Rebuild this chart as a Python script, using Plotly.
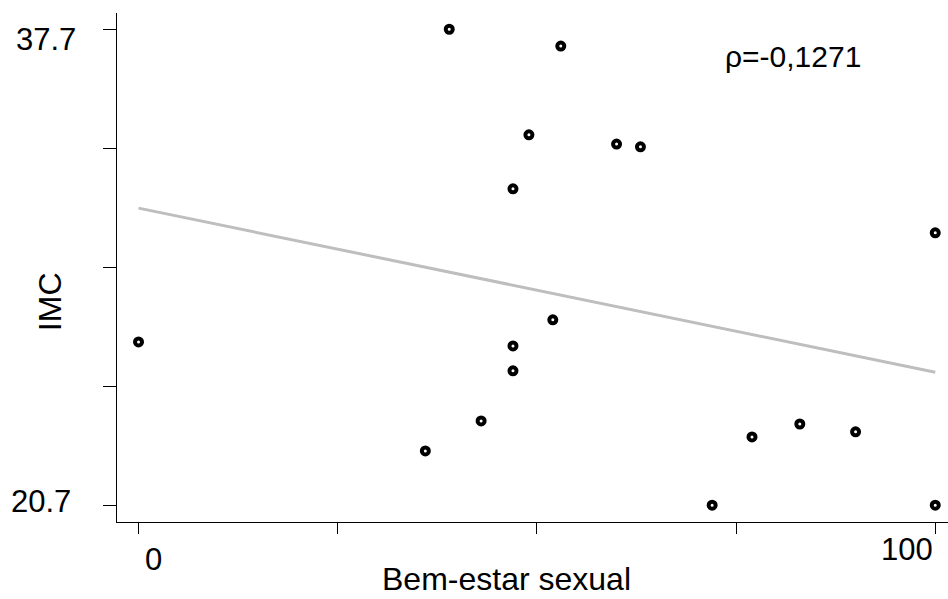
import plotly.graph_objects as go

# Data
bem_estar = [0, 36, 39, 43, 47, 47, 47, 49, 52, 53, 60, 63, 72, 77, 83, 90, 100, 100]
imc = [26.53, 22.64, 37.7, 23.71, 32.0, 26.39, 25.5, 33.93, 27.32, 37.1,
       33.6, 33.5, 20.7, 23.14, 23.6, 23.32, 30.43, 20.7]

fit_x = [0, 100]
fit_y = [31.31, 25.45]

x_tickvals = [0, 25, 50, 75, 100]
y_tickvals = [37.7, 33.45, 29.2, 24.95, 20.7]
rho_text = "ρ=-0,1271"

FONT = "Liberation Sans, Arial, sans-serif"

fig = go.Figure()
fig.add_trace(go.Scatter(x=fit_x, y=fit_y, mode="lines",
                         line=dict(color="#bebebe", width=3),
                         hoverinfo="skip", showlegend=False))
fig.add_trace(go.Scatter(x=bem_estar, y=imc, mode="markers", cliponaxis=False,
                         marker=dict(symbol="circle", size=7, color="white",
                                     line=dict(color="black", width=4)),
                         showlegend=False))

fig.update_layout(
    width=948, height=599,
    margin=dict(l=117, r=0, t=13, b=77),
    paper_bgcolor="white", plot_bgcolor="white",
    font=dict(family=FONT, size=31, color="black"),
    xaxis=dict(range=[-2.70, 101.6], showgrid=False, zeroline=False,
               showline=True, linecolor="black", linewidth=1,
               ticks="outside", ticklen=11, tickwidth=1, tickcolor="black",
               tickvals=x_tickvals, showticklabels=False),
    yaxis=dict(range=[20.10, 38.28], showgrid=False, zeroline=False,
               showline=True, linecolor="black", linewidth=1,
               ticks="outside", ticklen=13, tickwidth=1, tickcolor="black",
               tickvals=y_tickvals, showticklabels=False),
)

ann = []
# y tick labels (only first and last)
ann.append(dict(text="37.7", xref="paper", yref="y", x=-0.0469, y=y_tickvals[0],
                xanchor="right", yanchor="middle", yshift=-10, showarrow=False,
                font=dict(size=31)))
ann.append(dict(text="20.7", xref="paper", yref="y", x=-0.0529, y=y_tickvals[-1],
                xanchor="right", yanchor="middle", yshift=4, showarrow=False,
                font=dict(size=31)))
# x tick labels
ann.append(dict(text="0", xref="x", yref="paper", x=x_tickvals[0], y=-0.0727,
                xanchor="center", yanchor="middle", xshift=14.5, showarrow=False,
                font=dict(size=31)))
ann.append(dict(text="100", xref="x", yref="paper", x=x_tickvals[-1], y=-0.054,
                xanchor="right", yanchor="middle", showarrow=False,
                font=dict(size=31)))
# axis titles
ann.append(dict(text="Bem-estar sexual", xref="paper", yref="paper", x=0.4687, y=-0.112,
                xanchor="center", yanchor="middle", showarrow=False,
                font=dict(size=32)))
ann.append(dict(text="IMC", xref="paper", yref="paper", x=-0.0806, y=0.432,
                xanchor="center", yanchor="middle", textangle=-90, showarrow=False,
                font=dict(size=32)))
# correlation
ann.append(dict(text=rho_text, xref="paper", yref="paper", x=0.7296, y=0.9136,
                xanchor="left", yanchor="middle", showarrow=False,
                font=dict(size=30)))
fig.update_layout(annotations=ann)

fig.write_html("out.html", config={"displayModeBar": False},
               post_script="document.body.style.margin='0';document.body.style.overflow='hidden';")
